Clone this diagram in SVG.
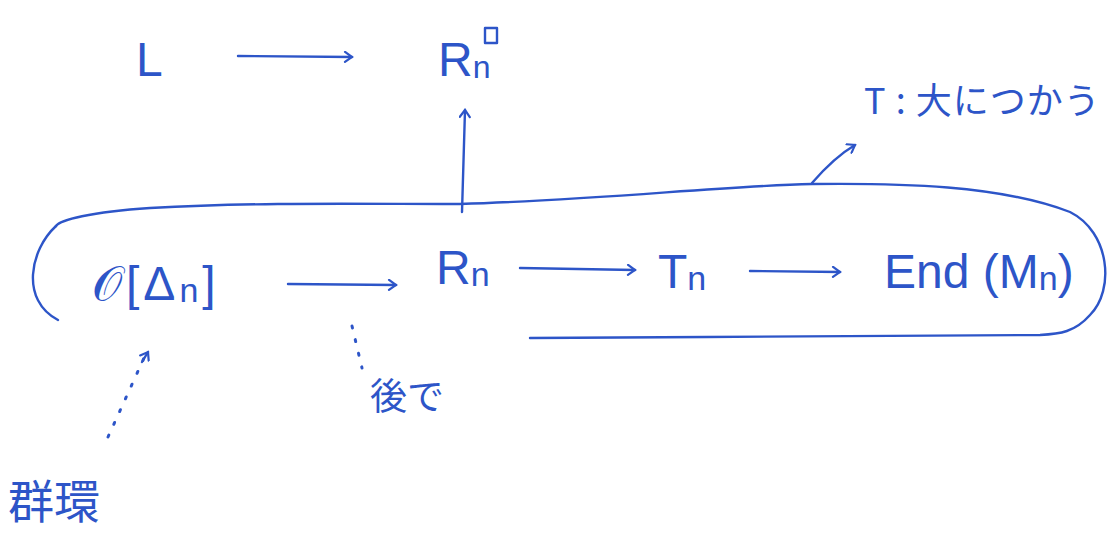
<svg xmlns="http://www.w3.org/2000/svg" width="1115" height="533" viewBox="0 0 1115 533">
<style>
.t{font-family:"Liberation Sans","Noto Sans CJK JP",sans-serif;fill:#2d55c8}
.m{font-size:48px}
.j{font-family:"Noto Sans CJK JP","Liberation Sans",sans-serif;fill:#2d55c8}
.s{fill:none;stroke:#2d55c8;stroke-width:2.4;stroke-linecap:round;stroke-linejoin:round}
.d{fill:none;stroke:#2d55c8;stroke-width:3;stroke-linecap:round;stroke-dasharray:2 12}
</style>
<defs>
<marker id="ah" viewBox="0 0 12 12" refX="10" refY="6" markerWidth="12" markerHeight="12" markerUnits="userSpaceOnUse" orient="auto">
<path d="M3,1 L10,6 L3,11" fill="none" stroke="#2d55c8" stroke-width="2.2" stroke-linecap="round"/>
</marker>
</defs>
<rect width="1115" height="533" fill="#ffffff"/>
<g id="node-L"><text class="t m" x="136" y="76">L</text></g>
<g id="node-Rn-box"><text class="t m" x="438" y="76">R<tspan font-size="32" dy="2">n</tspan></text><rect x="485" y="28" width="12" height="15" class="s"/></g>
<g id="node-O"><text class="t m" x="92" y="300" letter-spacing="4">𝒪[Δ<tspan font-size="34" dy="2">n</tspan><tspan dy="-2">]</tspan></text></g>
<g id="node-Rn"><text class="t m" x="436" y="284">R<tspan font-size="34" dy="2">n</tspan></text></g>
<g id="node-Tn"><text class="t m" x="658" y="288">T<tspan font-size="34" dy="2">n</tspan></text></g>
<g id="node-End"><text class="t m" x="884" y="288">End (M<tspan font-size="34" dy="2">n</tspan><tspan dy="-2">)</tspan></text></g>
<g id="node-T-label"><text class="j" x="864" y="114" font-size="36" letter-spacing="1">T : 大につかう</text></g>
<g id="node-ato"><text class="j" x="370" y="410" font-size="37">後で</text></g>
<g id="node-gunkan"><text class="j" x="8" y="518" font-size="46">群環</text></g>
<g id="loop"><path class="s" d="M56,226 C60,220 90,212 150,208 C260,202 360,204 460,204 C600,200 720,186 812,184 C900,183 1000,185 1070,212 C1110,232 1115,290 1090,315 C1075,332 1060,334 1040,335 C900,336 700,337 530,338"/><path class="s" d="M56,226 C30,250 20,300 58,320"/></g>
<g id="connectors">
<path class="s" d="M238,56 L352,57" marker-end="url(#ah)"/>
<path class="s" d="M462,212 L465,110" marker-end="url(#ah)"/>
<path class="s" d="M812,183 C825,168 838,155 855,145" marker-end="url(#ah)"/>
<path class="s" d="M288,284 L396,285" marker-end="url(#ah)"/>
<path class="s" d="M520,268 L635,270" marker-end="url(#ah)"/>
<path class="s" d="M750,271 L840,272" marker-end="url(#ah)"/>
<path class="d" d="M108,437 L144,358"/>
<path class="s" d="M142,362 L148,352" marker-end="url(#ah)"/>
<path class="d" d="M352,326 L362,368"/>
</g>
</svg>
